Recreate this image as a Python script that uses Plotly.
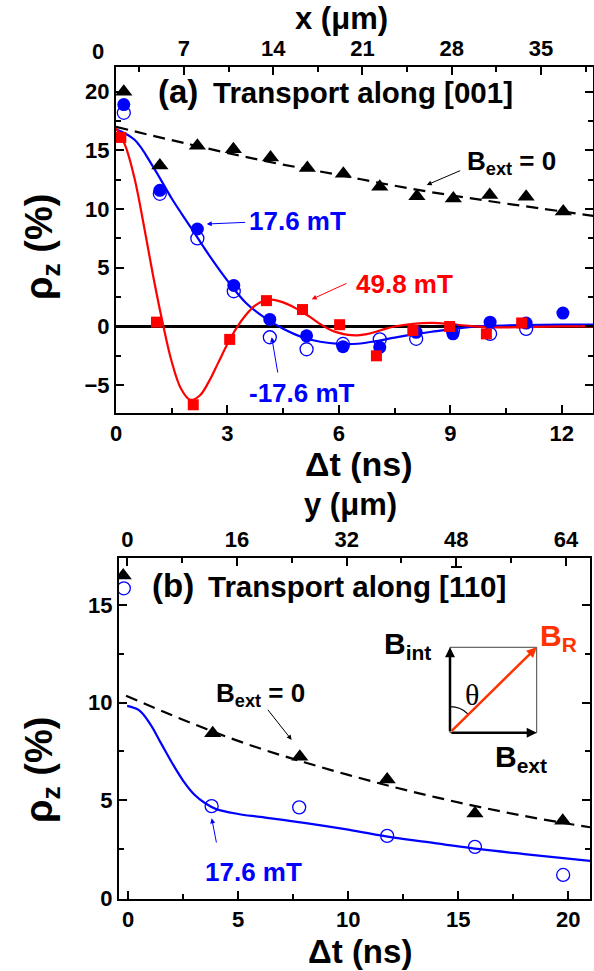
import plotly.graph_objects as go

W, H = 594, 971
FONT = "Liberation Sans, Arial, Helvetica, sans-serif"
BLUE = "#0000FF"
RED = "#FF0000"
ORANGE = "#FF3300"

# ---------------- panel (a): transport along [001] ----------------
t_a_tri = [0.21, 1.18, 2.19, 3.16, 4.16, 5.15, 6.12, 7.10, 8.10, 9.08, 10.06, 11.04, 12.04]
rho_a_tri = [20.0, 13.7, 15.4, 15.1, 14.4, 13.5, 13.0, 11.9, 11.1, 10.9, 11.2, 11.05, 9.8]

t_a_fill = [0.21, 1.18, 2.19, 3.17, 4.14, 5.13, 6.11, 7.10, 8.08, 9.07, 10.07, 11.04, 12.03]
rho_a_fill = [18.9, 11.6, 8.3, 3.5, 0.6, -0.8, -1.72, -1.78, -0.5, -0.63, 0.37, 0.29, 1.14]

t_a_open = [0.21, 1.18, 2.19, 3.17, 4.14, 5.13, 6.11, 7.10, 8.08, 9.07, 10.07, 11.04]
rho_a_open = [18.2, 11.3, 7.5, 3.0, -0.92, -1.94, -1.49, -1.1, -1.05, -0.34, -0.63, -0.2]

t_a_sq = [0.13, 1.09, 2.08, 3.06, 4.05, 5.02, 6.02, 7.01, 7.99, 8.98, 9.97, 10.92]
rho_a_sq = [16.1, 0.37, -6.67, -1.1, 2.2, 1.44, 0.15, -2.5, -0.34, 0.0, -0.63, 0.3]

# fitted curves
t_a_b0 = [0, 2, 4, 6, 8, 10, 12, 13]
rho_a_b0 = [17.0, 15.5, 14.1, 12.9, 11.7, 10.7, 9.8, 9.35]

t_a_blue = [0, 0.5, 1.0, 1.5, 2.0, 2.5, 3.0, 3.5, 4.0, 4.5, 5.0, 5.5, 6.0, 6.5, 7.0,
            7.5, 8.0, 8.5, 9.0, 9.5, 10.0, 11.0, 12.0, 13.0]
rho_a_blue = [16.8, 15.9, 13.6, 10.9, 8.5, 6.1, 3.9, 2.0, 0.75, -0.2, -0.9, -1.3, -1.48,
              -1.47, -1.25, -0.95, -0.68, -0.45, -0.25, -0.05, 0.05, 0.12, 0.15, 0.15]

t_a_red = [0, 0.25, 0.5, 0.75, 1.0, 1.25, 1.5, 1.75, 2.0, 2.25, 2.5, 2.75, 3.0, 3.25, 3.5,
           3.75, 4.0, 4.25, 4.5, 4.75, 5.0, 5.25, 5.5, 5.75, 6.0, 6.25, 6.5, 6.75, 7.0,
           7.25, 7.5, 8.0, 8.5, 9.0, 9.5, 10.0, 10.5, 11.0, 12.0, 13.0]
rho_a_red = [16.9, 15.4, 12.6, 8.6, 4.3, 0.4, -3.0, -5.3, -6.25, -5.9, -4.7, -3.1, -1.5,
             -0.1, 1.0, 1.8, 2.2, 2.27, 2.05, 1.7, 1.25, 0.75, 0.2, -0.25, -0.55, -0.72,
             -0.75, -0.65, -0.45, -0.2, 0.0, 0.22, 0.3, 0.2, 0.05, -0.05, -0.08, -0.05, 0.0, 0.0]

# ---------------- panel (b): transport along [-110] ----------------
t_b_tri = [-0.23, 3.84, 7.80, 11.77, 15.76, 19.75]
rho_b_tri = [16.5, 8.43, 7.23, 6.07, 4.33, 3.95]

t_b_open = [-0.2, 3.79, 7.77, 11.77, 15.76, 19.77]
rho_b_open = [15.85, 4.7, 4.64, 3.18, 2.62, 1.18]

t_b_b0 = [-0.1, 2, 4, 6, 8, 10, 12, 14, 16, 18, 20, 21]
rho_b_b0 = [10.35, 9.35, 8.45, 7.65, 6.95, 6.3, 5.7, 5.15, 4.65, 4.2, 3.8, 3.62]

t_b_blue = [-0.05, 0.5, 1.0, 1.5, 2.0, 2.5, 3.0, 3.5, 4.0, 5.0, 6.0, 8.0, 10.0, 12.0,
            14.0, 16.0, 18.0, 21.0]
rho_b_blue = [9.83, 9.6, 8.9, 7.9, 6.9, 6.0, 5.3, 4.85, 4.55, 4.3, 4.15, 3.85, 3.5, 3.1,
              2.8, 2.5, 2.25, 1.9]

# tick values
xa_ticks = [0, 3, 6, 9, 12]
xa_top_ticks = [7, 14, 21, 28, 35]
ya_ticks = [-5, 0, 5, 10, 15, 20]
xb_ticks = [0, 5, 10, 15, 20]
xb_top_ticks = [0, 16, 32, 48, 64]
yb_ticks = [0, 5, 10, 15]


def px(x):
    return x / W


def py(y):
    return 1 - y / H


fig = go.Figure()
DASH = "12px,7px"

# panel (a) traces
fig.add_trace(go.Scatter(x=t_a_b0, y=rho_a_b0, mode="lines", line=dict(color="black", width=2.2, dash=DASH),
                         line_shape="spline", xaxis="x", yaxis="y"))
fig.add_trace(go.Scatter(x=t_a_blue, y=rho_a_blue, mode="lines", line=dict(color=BLUE, width=2.2),
                         line_shape="spline", xaxis="x", yaxis="y"))
fig.add_trace(go.Scatter(x=t_a_red, y=rho_a_red, mode="lines", line=dict(color=RED, width=2.2),
                         line_shape="spline", xaxis="x", yaxis="y"))
fig.add_trace(go.Scatter(x=t_a_tri, y=rho_a_tri, mode="markers",
                         marker=dict(symbol="triangle-up", size=15, color="black"), xaxis="x", yaxis="y"))
fig.add_trace(go.Scatter(x=t_a_open, y=rho_a_open, mode="markers",
                         marker=dict(symbol="circle-open", size=13, color=BLUE, line=dict(width=1.3)),
                         xaxis="x", yaxis="y"))
fig.add_trace(go.Scatter(x=t_a_fill, y=rho_a_fill, mode="markers",
                         marker=dict(symbol="circle", size=13, color=BLUE), xaxis="x", yaxis="y"))
fig.add_trace(go.Scatter(x=t_a_sq, y=rho_a_sq, mode="markers",
                         marker=dict(symbol="square", size=11, color=RED), xaxis="x", yaxis="y"))
# carrier for the top (x in micrometres) axis
fig.add_trace(go.Scatter(x=xa_top_ticks, y=[None] * len(xa_top_ticks), mode="markers",
                         hoverinfo="skip", xaxis="x2", yaxis="y"))

# panel (b) traces
fig.add_trace(go.Scatter(x=t_b_b0, y=rho_b_b0, mode="lines", line=dict(color="black", width=2.2, dash=DASH),
                         line_shape="spline", xaxis="x3", yaxis="y2"))
fig.add_trace(go.Scatter(x=t_b_blue, y=rho_b_blue, mode="lines", line=dict(color=BLUE, width=2.2),
                         line_shape="spline", xaxis="x3", yaxis="y2"))
fig.add_trace(go.Scatter(x=t_b_tri, y=rho_b_tri, mode="markers",
                         marker=dict(symbol="triangle-up", size=15, color="black"), xaxis="x3", yaxis="y2"))
fig.add_trace(go.Scatter(x=t_b_open, y=rho_b_open, mode="markers",
                         marker=dict(symbol="circle-open", size=13, color=BLUE, line=dict(width=1.3)),
                         xaxis="x3", yaxis="y2"))
fig.add_trace(go.Scatter(x=xb_top_ticks, y=[None] * len(xb_top_ticks), mode="markers",
                         hoverinfo="skip", xaxis="x4", yaxis="y2"))

tickfont = dict(family=FONT, size=22, color="black", weight=700)
base_axis = dict(showline=True, linecolor="black", linewidth=2, ticks="inside", ticklen=8,
                 tickwidth=2, tickcolor="black", showgrid=False, zeroline=False, tickfont=tickfont,
                 automargin=False, autorange=False,
                 minor=dict(ticks="inside", ticklen=5, tickwidth=2, tickcolor="black", showgrid=False))

dom_a_x = [px(116), px(593)]
dom_a_y = [py(413), py(67)]
dom_b_x = [px(119), px(590)]
dom_b_y = [py(899), py(558)]

fig.update_layout(
    width=W, height=H, margin=dict(l=0, r=0, t=0, b=0, autoexpand=False),
    paper_bgcolor="white", plot_bgcolor="white", showlegend=False,
    xaxis=dict(base_axis, domain=dom_a_x, anchor="y", range=[0, 12.84], tickvals=xa_ticks,
               minor=dict(base_axis["minor"], dtick=1.5, tick0=0)),
    xaxis2=dict(base_axis, overlaying="x", side="top", anchor="y", range=[1.67, 39.08],
                tickvals=xa_top_ticks, minor=dict(base_axis["minor"], dtick=3.5, tick0=0)),
    yaxis=dict(base_axis, domain=dom_a_y, anchor="x", range=[-7.37, 22.10], tickvals=ya_ticks,
               mirror="ticks", zeroline=True, zerolinecolor="black", zerolinewidth=2.5,
               minor=dict(base_axis["minor"], dtick=2.5, tick0=0)),
    xaxis3=dict(base_axis, domain=dom_b_x, anchor="y2", range=[-0.42, 20.99], tickvals=xb_ticks,
                minor=dict(base_axis["minor"], dtick=2.5, tick0=0)),
    xaxis4=dict(base_axis, overlaying="x3", side="top", anchor="y2", range=[-1.21, 67.5],
                tickvals=xb_top_ticks, minor=dict(base_axis["minor"], dtick=8, tick0=0)),
    yaxis2=dict(base_axis, domain=dom_b_y, anchor="x3", range=[-0.05, 17.4], tickvals=yb_ticks,
                mirror="ticks", minor=dict(base_axis["minor"], dtick=2.5, tick0=0)),
)

anns = []


def text(t, x, y, size, color="black", xanchor="center", yanchor="middle", angle=0, family=FONT):
    anns.append(dict(text=t, x=px(x), y=py(y), xref="paper", yref="paper", showarrow=False,
                     xanchor=xanchor, yanchor=yanchor, textangle=angle,
                     font=dict(family=family, size=size, color=color)))


def arrow(tipx, tipy, tailx, taily, color, width=1, head=2, size=1.0):
    anns.append(dict(text="", x=px(tipx), y=py(tipy), xref="paper", yref="paper", showarrow=True,
                     ax=tailx - tipx, ay=taily - tipy, axref="pixel", ayref="pixel",
                     arrowcolor=color, arrowwidth=width, arrowhead=head, arrowsize=size, standoff=0,
                     startstandoff=0))


# axis titles
text("<b>x (μm)</b>", 341, 19, 31)
text("<b>0</b>", 98, 52, 22)
text("<b>Δt (ns)</b>", 359, 464, 34)
text("<b>ρ<sub>z</sub> (%)</b>", 42, 247, 38, angle=-90)
text("<b>y (μm)</b>", 350, 504, 31)
text("<b>Δt (ns)</b>", 360, 951, 33)
text("<b>ρ<sub>z</sub> (%)</b>", 42, 770, 38, angle=-90)

# panel labels
text("<b>(a)</b>", 156, 92, 33, xanchor="left")
text("<b>Transport along [001]</b>", 211, 93, 29.5, xanchor="left")
text("<b>(b)</b>", 150, 585, 33, xanchor="left")
text("<b>Transport along [110]</b>", 206, 586, 29.5, xanchor="left")

# series labels
text("<b>17.6 mT</b>", 297, 221, 26, color=BLUE)
arrow(206.7, 224, 246.7, 222.3, BLUE)
text("<b>49.8 mT</b>", 404, 284, 26, color=RED)
arrow(311.7, 299.3, 348, 282.7, RED)
text("<b>-17.6 mT</b>", 302, 393, 26, color=BLUE)
arrow(271.7, 337.3, 278, 374, BLUE)
text("<b>B<sub>ext</sub> = 0</b>", 465, 162, 26, xanchor="left")
arrow(426.7, 185, 461.7, 170, "black")

text("<b>B<sub>ext</sub> = 0</b>", 214, 694, 26, xanchor="left")
arrow(291.7, 740, 266.7, 708.3, "black")
text("<b>17.6 mT</b>", 253, 872, 26, color=BLUE)
arrow(211.7, 818.3, 216.7, 844, BLUE)

# inset: field diagram
ox, oy = 450, 732.7
ex, ey = 536.7, 647.3
arrow(ox, ey, ox, oy, "black", width=2.5, head=2, size=0.8)
arrow(ex, oy, ox, oy, "black", width=2.5, head=2, size=0.8)
arrow(ex, ey, ox, oy, ORANGE, width=2.5, head=2, size=0.8)
text("<b>B<sub>int</sub></b>", 433, 645, 30, xanchor="right")
text("<b>B<sub>R</sub></b>", 538, 637, 30, color=ORANGE, xanchor="left")
text("<b>B<sub>ext</sub></b>", 493, 758, 30, xanchor="left")
text("θ", 472, 694, 30, family="Liberation Serif, Times New Roman, serif")

fig.update_layout(annotations=anns)

shapes = [
    dict(type="rect", xref="paper", yref="paper", x0=px(ox), x1=px(ex), y0=py(oy), y1=py(ey),
         line=dict(color="#444444", width=1)),
    dict(type="path", xref="paper", yref="paper",
         path=f"M {px(450)},{py(706.7)} Q {px(460.8)},{py(706.7)} {px(468.4)},{py(714.3)}",
         line=dict(color="black", width=1.2)),
    # overbar of the first 1 in [-110]
    dict(type="line", xref="paper", yref="paper", x0=px(451), x1=px(462), y0=py(567), y1=py(567),
         line=dict(color="black", width=2)),
]
fig.update_layout(shapes=shapes)

fig.write_html("out.html", config={"displayModeBar": False},
               post_script="document.body.style.margin='0';document.body.style.padding='0';"
                           "document.body.style.overflow='hidden';")
